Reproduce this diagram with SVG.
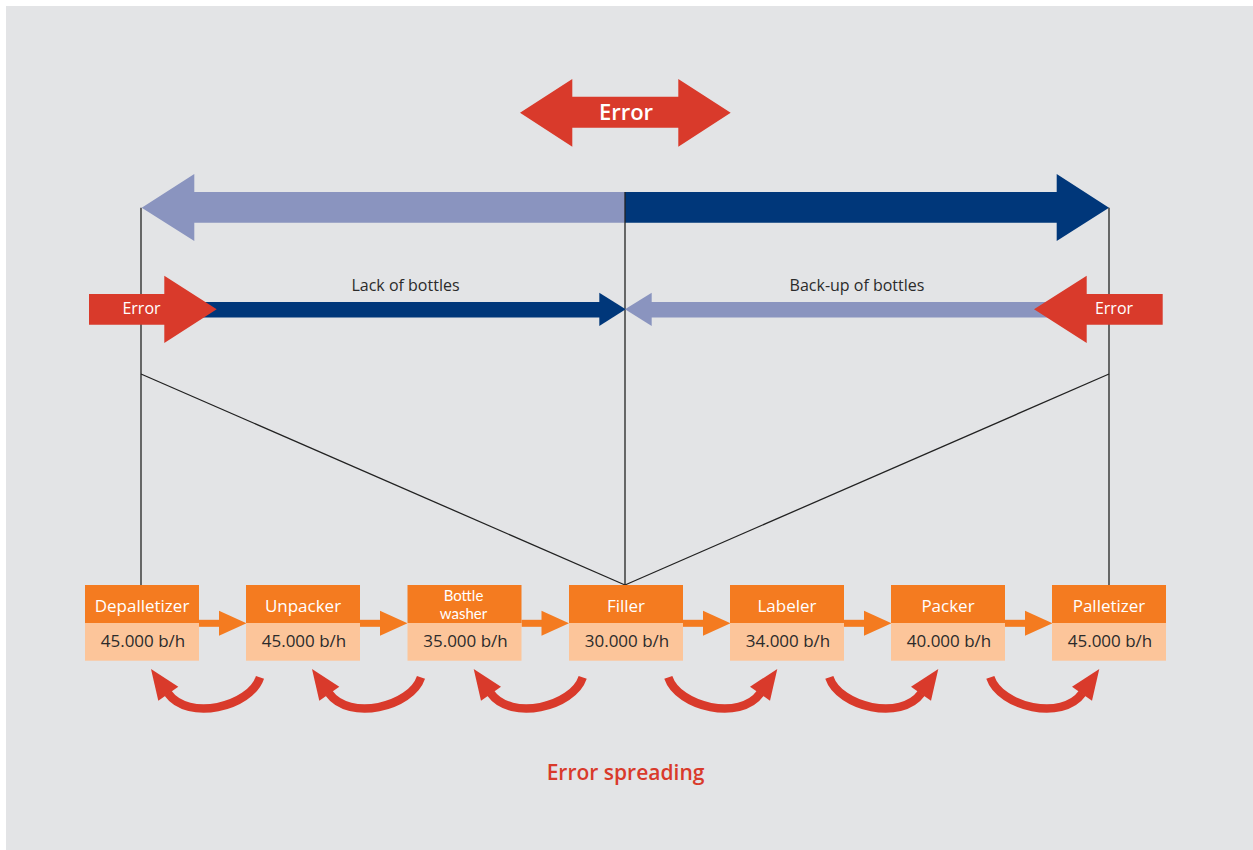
<svg xmlns="http://www.w3.org/2000/svg" xmlns:xlink="http://www.w3.org/1999/xlink" width="1253" height="850" viewBox="0 0 1253 850">
<style>
text{font-family:"Open Sans","Noto Sans","Liberation Sans",sans-serif}
.bg{fill:#e3e4e6}
.red{fill:#d93a2b}
.navy{fill:#00377a}
.lb{fill:#8a94bf}
.ln{stroke:#222;stroke-width:1.3;fill:none}
.box{fill:#f47b20}
.rate{fill:#fcc59a}
.nm{fill:#fff;font-size:17px;text-anchor:middle}
.nm2{fill:#fff;font-size:15px;text-anchor:middle;font-family:Lato,"Liberation Sans",sans-serif}
.rt{fill:#2b2b2b;font-size:17px;text-anchor:middle}
.lbl{fill:#2b2b2b;font-size:16px;text-anchor:middle}
.err{fill:#fff;font-size:16px;text-anchor:middle}
.oc{fill:#f47b20}
.curve{fill:none;stroke:#d93a2b;stroke-width:8.5}
</style>
<defs>
<g id="cur">
<path class="curve" d="M0,0 C10,30 72,44 92,16"/>
<polygon class="red" points="109,-8.3 81.7,9.4 101.7,23.4"/>
</g>
<g id="oarrow">
<rect class="oc" x="0" y="619.8" width="22" height="7"/>
<polygon class="oc" points="20,610.7 47.5,623.3 20,635.8"/>
</g>
</defs>
<rect class="bg" x="6" y="6" width="1247" height="844"/>

<g id="top-error">
<polygon class="red" points="520,112.7 572.3,79 572.3,96.7 678.3,96.7 678.3,79 730.7,112.7 678.3,146.7 678.3,127.7 572.3,127.7 572.3,146.7"/>
<text x="626" y="119.5" style="fill:#fff;font-size:22px;font-weight:600;text-anchor:middle">Error</text>
</g>

<g id="range-arrow">
<polygon class="lb" points="141.7,207.7 194.3,174 194.3,192 625,192 625,222.7 194.3,222.7 194.3,241"/>
<polygon class="navy" points="625,192 1056.7,192 1056.7,174 1109,207.7 1056.7,241 1056.7,222.7 625,222.7"/>
</g>

<g id="connectors">
<line class="ln" x1="141" y1="207.7" x2="141" y2="585"/>
<line class="ln" x1="625" y1="192" x2="625" y2="585"/>
<line class="ln" x1="1109" y1="207.7" x2="1109" y2="585"/>
<line class="ln" x1="141" y1="374" x2="625" y2="585"/>
<line class="ln" x1="1109" y1="374" x2="625" y2="585"/>
<use xlink:href="#oarrow" href="#oarrow" transform="translate(199,0)"/>
<use xlink:href="#oarrow" href="#oarrow" transform="translate(360,0)"/>
<use xlink:href="#oarrow" href="#oarrow" transform="translate(521.5,0)"/>
<use xlink:href="#oarrow" href="#oarrow" transform="translate(683,0)"/>
<use xlink:href="#oarrow" href="#oarrow" transform="translate(844,0)"/>
<use xlink:href="#oarrow" href="#oarrow" transform="translate(1005,0)"/>
<use xlink:href="#cur" href="#cur" transform="translate(260,677.3) scale(-1,1)"/>
<use xlink:href="#cur" href="#cur" transform="translate(421,677.3) scale(-1,1)"/>
<use xlink:href="#cur" href="#cur" transform="translate(582.7,677.3) scale(-1,1)"/>
<use xlink:href="#cur" href="#cur" transform="translate(668.3,677.3)"/>
<use xlink:href="#cur" href="#cur" transform="translate(829.3,677.3)"/>
<use xlink:href="#cur" href="#cur" transform="translate(990.3,677.3)"/>
</g>

<g id="lack">
<rect class="navy" x="190" y="302" width="410" height="15.5"/>
<polygon class="navy" points="599.3,292.7 625.7,309.3 599.3,326"/>
<text class="lbl" x="405.5" y="290.5">Lack of bottles</text>
</g>
<g id="backup">
<rect class="lb" x="650" y="302" width="400" height="15.5"/>
<polygon class="lb" points="651.7,292.7 625,309.3 651.7,326"/>
<text class="lbl" x="857" y="290.5">Back-up of bottles</text>
</g>
<g id="error-left">
<polygon class="red" points="89,294 164.3,294 164.3,275.7 216.7,309.3 164.3,343 164.3,324.7 89,324.7"/>
<text class="err" x="141.5" y="314">Error</text>
</g>
<g id="error-right">
<polygon class="red" points="1162.7,294 1086.7,294 1086.7,275.7 1034,309.3 1086.7,343 1086.7,324.7 1162.7,324.7"/>
<text class="err" x="1114" y="314">Error</text>
</g>

<g id="depalletizer">
<rect class="box" x="85" y="585" width="114" height="38"/>
<rect class="rate" x="85" y="623" width="114" height="37.7"/>
<text class="nm" x="142" y="611.7">Depalletizer</text>
<text class="rt" x="143" y="646.7">45.000 b/h</text>
</g>
<g id="unpacker">
<rect class="box" x="246" y="585" width="114" height="38"/>
<rect class="rate" x="246" y="623" width="114" height="37.7"/>
<text class="nm" x="303" y="611.7">Unpacker</text>
<text class="rt" x="304" y="646.7">45.000 b/h</text>
</g>
<g id="bottle-washer">
<rect class="box" x="407.5" y="585" width="114" height="38"/>
<rect class="rate" x="407.5" y="623" width="114" height="37.7"/>
<text class="nm2" x="463.5" y="601">Bottle</text>
<text class="nm2" x="463.5" y="619">washer</text>
<text class="rt" x="465.5" y="646.7">35.000 b/h</text>
</g>
<g id="filler">
<rect class="box" x="569" y="585" width="114" height="38"/>
<rect class="rate" x="569" y="623" width="114" height="37.7"/>
<text class="nm" x="626" y="611.7">Filler</text>
<text class="rt" x="627" y="646.7">30.000 b/h</text>
</g>
<g id="labeler">
<rect class="box" x="730" y="585" width="114" height="38"/>
<rect class="rate" x="730" y="623" width="114" height="37.7"/>
<text class="nm" x="787" y="611.7">Labeler</text>
<text class="rt" x="788" y="646.7">34.000 b/h</text>
</g>
<g id="packer">
<rect class="box" x="891" y="585" width="114" height="38"/>
<rect class="rate" x="891" y="623" width="114" height="37.7"/>
<text class="nm" x="948" y="611.7">Packer</text>
<text class="rt" x="949" y="646.7">40.000 b/h</text>
</g>
<g id="palletizer">
<rect class="box" x="1052" y="585" width="114" height="38"/>
<rect class="rate" x="1052" y="623" width="114" height="37.7"/>
<text class="nm" x="1109" y="611.7">Palletizer</text>
<text class="rt" x="1110" y="646.7">45.000 b/h</text>
</g>

<g id="error-spreading">
<text x="625.5" y="780" style="fill:#d93a2b;font-size:21px;font-weight:600;text-anchor:middle">Error spreading</text>
</g>
</svg>
